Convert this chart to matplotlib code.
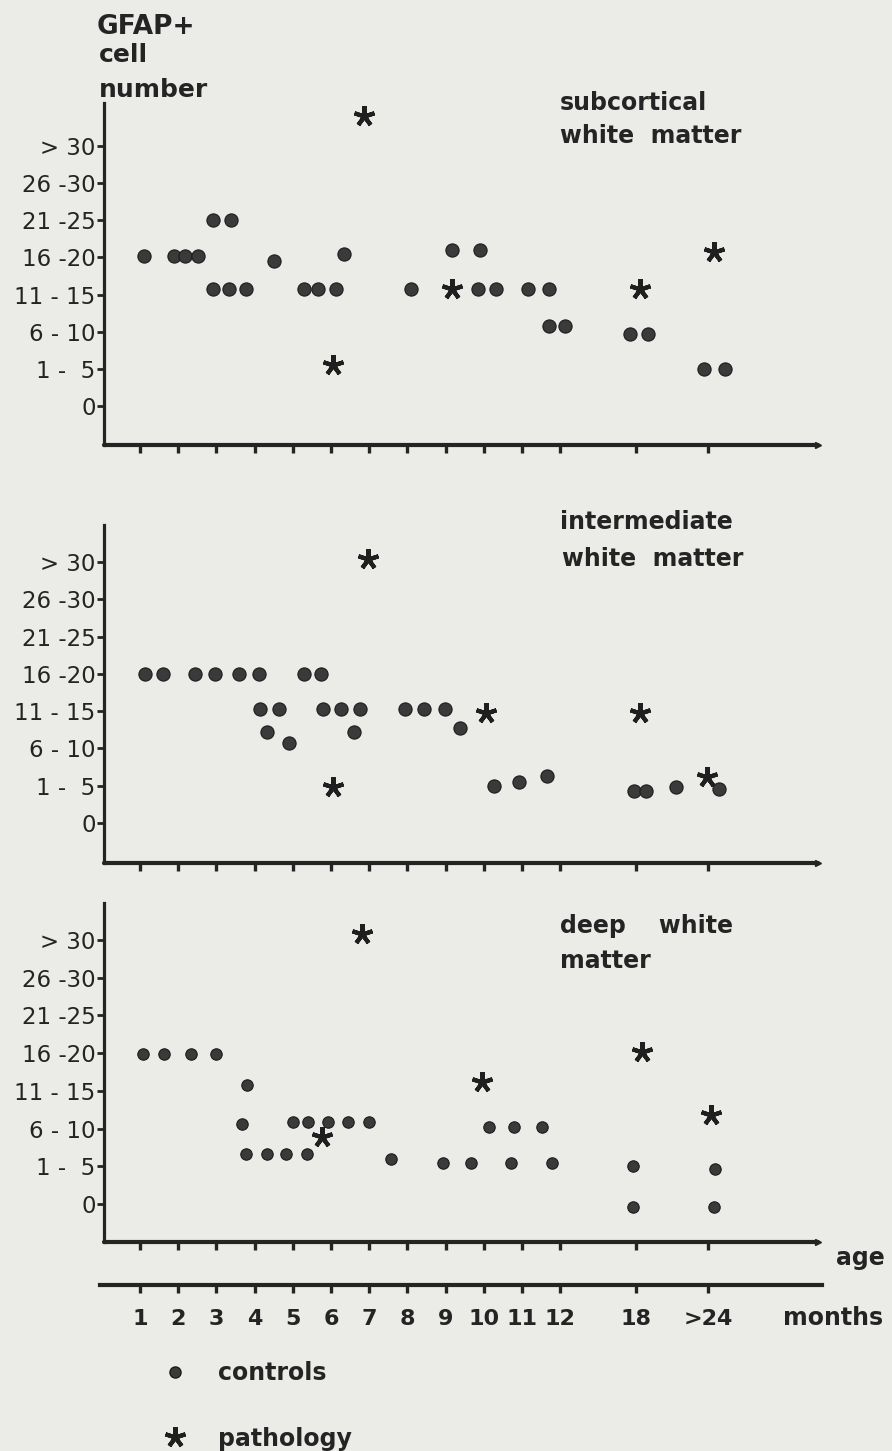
import matplotlib
matplotlib.use('Agg')
import matplotlib.pyplot as plt
from matplotlib.lines import Line2D

# ---------------- data ----------------
y_labels = ['0', '1 -  5', '6 - 10', '11 - 15', '16 -20', '21 -25', '26 -30', '> 30']
month_labels = ['1', '2', '3', '4', '5', '6', '7', '8', '9', '10', '11', '12', '18', '>24']
month_pos = [1, 2, 3, 4, 5, 6, 7, 8, 9, 10, 11, 12, 13.98, 15.87]

# subcortical white matter
sub_ctrl_x = [1.10, 1.88, 2.17, 2.52, 2.92, 3.37, 2.92, 3.34, 3.77, 4.51, 5.30, 5.67, 6.12,
              6.34, 8.09, 9.17, 9.89, 9.84, 10.32, 11.15, 11.70, 11.70, 12.12, 13.83, 14.31,
              15.77, 16.32]
sub_ctrl_y = [4.05, 4.05, 4.05, 4.05, 5.0, 5.0, 3.15, 3.15, 3.15, 3.9, 3.15, 3.15, 3.15,
              4.1, 3.15, 4.2, 4.2, 3.15, 3.15, 3.15, 3.15, 2.15, 2.15, 1.95, 1.95,
              1.0, 1.0]
sub_path_x = [6.05, 6.86, 9.17, 14.09, 16.03]
sub_path_y = [1.1, 7.8, 3.15, 3.15, 4.15]

# intermediate white matter
int_ctrl_x = [1.13, 1.61, 2.44, 2.96, 3.59, 4.11, 5.30, 5.75,
              4.15, 4.63, 5.79, 6.27, 6.76, 7.95, 8.43, 8.99,
              4.33, 6.61, 9.37, 4.90,
              10.26, 10.92, 11.66, 13.94, 14.24, 15.03, 16.17]
int_ctrl_y = [4.0, 4.0, 4.0, 4.0, 4.0, 4.0, 4.0, 4.0,
              3.05, 3.05, 3.05, 3.05, 3.05, 3.05, 3.05, 3.05,
              2.45, 2.45, 2.55, 2.14,
              1.0, 1.1, 1.27, 0.87, 0.87, 0.96, 0.9]
int_path_x = [6.98, 6.05, 10.07, 14.09, 15.84]
int_path_y = [7.09, 0.96, 2.95, 2.95, 1.23]

# deep white matter
deep_ctrl_x = [1.09, 1.63, 2.33, 2.99, 3.80, 3.67, 3.77, 4.32, 4.82, 5.37,
               5.00, 5.40, 5.92, 6.45, 6.99, 7.57, 8.92, 9.66, 10.70, 11.78,
               10.14, 10.80, 11.52, 13.90, 13.90, 16.05, 16.03]
deep_ctrl_y = [3.98, 3.98, 3.98, 3.98, 3.16, 2.12, 1.33, 1.33, 1.33, 1.33,
               2.17, 2.17, 2.17, 2.17, 2.17, 1.19, 1.09, 1.09, 1.09, 1.09,
               2.04, 2.04, 2.04, 1.0, -0.08, 0.93, -0.08]
deep_path_x = [6.82, 5.76, 9.96, 14.13, 15.95]
deep_path_y = [7.17, 1.78, 3.24, 4.04, 2.37]

# ---------------- styling ----------------
W, H = 892, 1451
BG = '#ebebe7'
INK = '#242424'
DOT_FC = '#3a3a3a'
DOT_EC = '#1c1c1c'
STAR = (5, 2, 0)

plt.rcParams['font.family'] = ['DejaVu Sans']

fig = plt.figure(figsize=(W / 100, H / 100), dpi=100, facecolor=BG)

XPX = 38.2      # pixels per month step
X1 = 140        # pixel of month 1
XL, XR = 104, 818


def px_axes(left, top, right, bottom):
    return fig.add_axes([left / W, 1 - bottom / H, (right - left) / W, (bottom - top) / H])


def panel(top, bottom, zero, top30, cx, cy, px, py, dot_ms):
    unit = (zero - top30) / 7.0
    ax = px_axes(XL, top, XR, bottom)
    ax.set_facecolor('none')
    ax.set_xlim((XL - X1) / XPX + 1, (XR - X1) / XPX + 1)
    ax.set_ylim(-(bottom - zero) / unit, (zero - top) / unit)
    for s in ('top', 'right'):
        ax.spines[s].set_visible(False)
    ax.spines['left'].set_linewidth(2.3)
    ax.spines['left'].set_color(INK)
    ax.spines['bottom'].set_linewidth(3.0)
    ax.spines['bottom'].set_color(INK)
    ax.spines['bottom'].set_capstyle('round')
    ax.set_xticks(month_pos)
    ax.set_xticklabels([])
    ax.tick_params(axis='x', direction='out', length=6, width=2.4, color=INK)
    ax.set_yticks(range(len(y_labels)))
    ax.set_yticklabels(y_labels, fontsize=16.5, color=INK)
    ax.tick_params(axis='y', direction='out', length=5, width=2.0, color=INK, pad=1)
    ax.plot(cx, cy, ls='none', marker='o', ms=dot_ms, mfc=DOT_FC, mec=DOT_EC, mew=0.8,
            clip_on=False, zorder=3)
    ax.plot(px, py, ls='none', marker=STAR, ms=15, mew=3.0, color='#1f1f1f',
            clip_on=False, zorder=3)
    # small arrow nub at the end of the age axis
    ax.plot([1.0], [0.0], marker='>', ms=5, color=INK, transform=ax.transAxes, clip_on=False)
    return ax


panel(103, 445, 406, 146, sub_ctrl_x, sub_ctrl_y, sub_path_x, sub_path_y, 9.5)
panel(525, 863, 823, 562, int_ctrl_x, int_ctrl_y, int_path_x, int_path_y, 9.5)
panel(903, 1242, 1204, 940, deep_ctrl_x, deep_ctrl_y, deep_path_x, deep_path_y, 8.2)

# month axis
axm = px_axes(100, 1284, 822, 1285)
axm.set_facecolor('none')
axm.set_xlim((100 - X1) / XPX + 1, (822 - X1) / XPX + 1)
axm.set_ylim(0, 1)
for s in ('top', 'right', 'left'):
    axm.spines[s].set_visible(False)
axm.spines['bottom'].set_linewidth(3.0)
axm.spines['bottom'].set_color(INK)
axm.set_yticks([])
axm.set_xticks(month_pos)
axm.set_xticklabels(month_labels, fontsize=16, fontweight='bold', color=INK)
axm.tick_params(axis='x', direction='out', length=6, width=2.4, color=INK, pad=11)


def ftext(x, y, s, **kw):
    kw.setdefault('color', INK)
    kw.setdefault('fontweight', 'bold')
    fig.text(x / W, 1 - y / H, s, **kw)


# y axis title
ftext(97, 34, 'GFAP+', fontsize=19, va='baseline')
ftext(99, 62, 'cell', fontsize=18, va='baseline')
ftext(99, 97, 'number', fontsize=18, va='baseline')

# panel titles
ftext(560, 103, 'subcortical', fontsize=17, va='center')
ftext(560, 136, 'white  matter', fontsize=17, va='center')
ftext(560, 522, 'intermediate', fontsize=17, va='center')
ftext(562, 559, 'white  matter', fontsize=17, va='center')
ftext(560, 926, 'deep    white', fontsize=17, va='center')
ftext(560, 961, 'matter', fontsize=17, va='center')

# axis words
ftext(836, 1258, 'age', fontsize=17, va='center')
ftext(783, 1318, 'months', fontsize=17, va='center')

# legend
handles = [
    Line2D([], [], ls='none', marker='o', ms=8, mfc=DOT_FC, mec=DOT_EC),
    Line2D([], [], ls='none', marker=STAR, ms=15, mew=3.0, color='#1f1f1f'),
]
fig.legend(handles, ['controls', 'pathology'], loc='upper left',
           bbox_to_anchor=(140 / W, 1 - 1340 / H), frameon=False,
           prop={'weight': 'bold', 'size': 17}, labelspacing=1.75,
           handletextpad=1.2, handlelength=1.2, labelcolor=INK)

fig.savefig('out.png', dpi=100, facecolor=BG)
